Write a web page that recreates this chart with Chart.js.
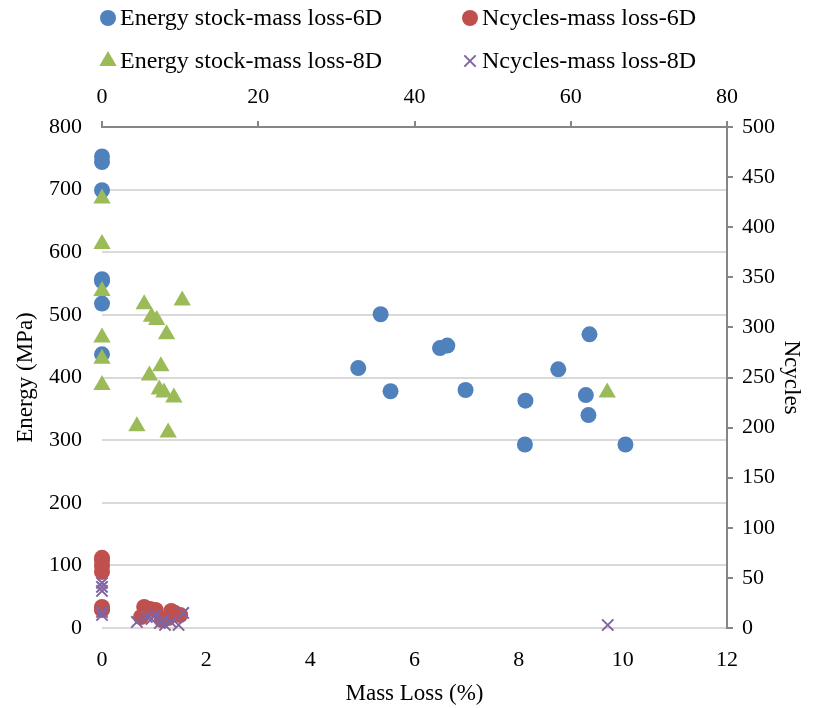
<!DOCTYPE html>
<html>
<head>
<meta charset="utf-8">
<script src="https://cdn.jsdelivr.net/npm/chart.js@4"></script>
<style>
  html, body { margin: 0; padding: 0; background: #fff; }
  #wrap { width: 815px; height: 708px; }
</style>
</head>
<body>
<div id="wrap"><canvas id="chart"></canvas></div>
<script>
// series data
const energy_6d_x = [0, 0, 0, 0, 0, 0, 0, 4.92, 5.35, 5.54, 6.49, 6.63, 6.98, 8.13, 8.12, 8.76, 9.36, 9.29, 9.34, 10.05];
const energy_6d_y = [753, 744, 699, 557, 554, 518, 437, 415, 501, 378, 447, 451, 380, 363, 293, 413, 469, 372, 340, 293];

const energy_8d_x = [0, 0, 0, 0, 0, 0, 0.81, 1.54, 0.95, 1.05, 1.24, 1.13, 0.91, 1.10, 1.19, 1.38, 0.67, 1.27, 9.70];
const energy_8d_y = [686, 613, 538, 464, 430, 388, 517, 523, 497, 492, 469, 418, 403, 381, 376, 368, 322, 312, 376];

const ncycles_6d_x = [0, 0, 0, 0, 0, 0, 0, 0.75, 0.81, 0.92, 1.03, 1.15, 1.27, 1.40, 1.50, 1.33];
const ncycles_6d_y = [70, 67, 62, 56, 21, 19, 18, 11, 21, 19, 18, 8, 10, 15, 13, 17];

const ncycles_8d_x = [0, 0, 0, 0, 0, 0.67, 0.86, 1.02, 1.11, 1.21, 1.32, 1.47, 1.56, 0.95, 1.18, 9.71];
const ncycles_8d_y = [45, 41, 37, 16, 13, 6, 11, 13, 5, 3, 6, 3, 15, 9, 8, 3];

const series_labels = ['Energy stock-mass loss-6D', 'Ncycles-mass loss-6D', 'Energy stock-mass loss-8D', 'Ncycles-mass loss-8D'];

const FONT = 'Liberation Serif';
const AXIS_GREY = '#868686';
const GRID_GREY = '#d9d9d9';

function to_points(xs, ys) {
    return xs.map((x, i) => ({x: x, y: ys[i]}));
}

// legend drawn as a 2x2 grid like the excel one
const grid_legend = {
    id: 'grid_legend',
    afterDraw(chart) {
        const ctx = chart.ctx;
        const cols = [108, 470];
        const rows = [18, 61];
        ctx.save();
        ctx.font = '24px "' + FONT + '"';
        ctx.textBaseline = 'middle';
        chart.data.datasets.forEach((ds, i) => {
            const cx = cols[i % 2];
            const cy = rows[Math.floor(i / 2)];
            ctx.fillStyle = ds.backgroundColor;
            ctx.strokeStyle = ds.borderColor;
            ctx.lineWidth = ds.borderWidth;
            Chart.helpers.drawPoint(ctx, {
                pointStyle: ds.pointStyle,
                radius: ds.legendRadius,
                borderWidth: ds.borderWidth
            }, cx, cy);
            ctx.fillStyle = '#000';
            ctx.fillText(ds.label, cx + 12, cy + 1);
        });
        ctx.restore();
    }
};

const tick_font = { family: FONT, size: 22 };
const title_font = { family: FONT, size: 23 };

const canvas = document.getElementById('chart');

new Chart(canvas, {
    type: 'scatter',
    data: {
        datasets: [
            {
                label: series_labels[0],
                data: to_points(energy_6d_x, energy_6d_y),
                xAxisID: 'x', yAxisID: 'y',
                pointStyle: 'circle', pointRadius: 8, legendRadius: 8,
                backgroundColor: '#4f81bd', borderColor: '#4f81bd', borderWidth: 0,
                clip: false, order: 3
            },
            {
                label: series_labels[1],
                data: to_points(ncycles_6d_x, ncycles_6d_y),
                xAxisID: 'x', yAxisID: 'y2',
                pointStyle: 'circle', pointRadius: 8, legendRadius: 8,
                backgroundColor: '#c0504d', borderColor: '#c0504d', borderWidth: 0,
                clip: false, order: 2
            },
            {
                label: series_labels[2],
                data: to_points(energy_8d_x, energy_8d_y),
                xAxisID: 'x', yAxisID: 'y',
                pointStyle: 'triangle', pointRadius: 10, legendRadius: 10,
                backgroundColor: '#9bbb59', borderColor: '#9bbb59', borderWidth: 0,
                clip: false, order: 1
            },
            {
                label: series_labels[3],
                data: to_points(ncycles_8d_x, ncycles_8d_y),
                xAxisID: 'x', yAxisID: 'y2',
                pointStyle: 'crossRot', pointRadius: 8, legendRadius: 8,
                backgroundColor: '#8064a2', borderColor: '#8064a2', borderWidth: 2,
                clip: false, order: 0
            }
        ]
    },
    options: {
        responsive: true,
        maintainAspectRatio: false,
        animation: false,
        layout: { padding: 0 },
        plugins: {
            legend: { display: false },
            tooltip: { enabled: false }
        },
        scales: {
            x: {
                type: 'linear',
                position: 'bottom',
                min: 0, max: 12,
                ticks: { stepSize: 2, padding: 19, color: '#000', font: tick_font },
                grid: { display: false, drawTicks: false },
                border: { display: false },
                title: { display: true, text: 'Mass Loss (%)', color: '#000', padding: { top: 0, bottom: 0 }, font: title_font },
                afterFit: (s) => { s.height = 80; }
            },
            x2: {
                type: 'linear',
                position: 'top',
                min: 0, max: 80,
                ticks: { stepSize: 20, padding: 11, color: '#000', font: tick_font },
                grid: { drawOnChartArea: false, drawTicks: true, tickLength: 6, color: AXIS_GREY, lineWidth: 2 },
                border: { display: true, color: AXIS_GREY, width: 2 },
                afterFit: (s) => { s.height = 127; }
            },
            y: {
                type: 'linear',
                position: 'left',
                min: 0, max: 800,
                ticks: { stepSize: 100, padding: 20, color: '#000', font: tick_font },
                grid: { drawTicks: false, color: GRID_GREY, lineWidth: 2 },
                border: { display: false },
                title: { display: true, text: 'Energy (MPa)', color: '#000', padding: { top: 12, bottom: 0 }, font: title_font },
                afterFit: (s) => { s.width = 102; }
            },
            y2: {
                type: 'linear',
                position: 'right',
                min: 0, max: 500,
                ticks: { stepSize: 50, padding: 9, color: '#000', font: tick_font },
                grid: { drawOnChartArea: false, drawTicks: true, tickLength: 6, color: AXIS_GREY, lineWidth: 2 },
                border: { display: true, color: AXIS_GREY, width: 2 },
                title: { display: true, text: 'Ncycles', color: '#000', padding: { top: 10, bottom: 0 }, font: title_font },
                afterFit: (s) => { s.width = 88; }
            }
        }
    },
    plugins: [grid_legend]
});
</script>
</body>
</html>
